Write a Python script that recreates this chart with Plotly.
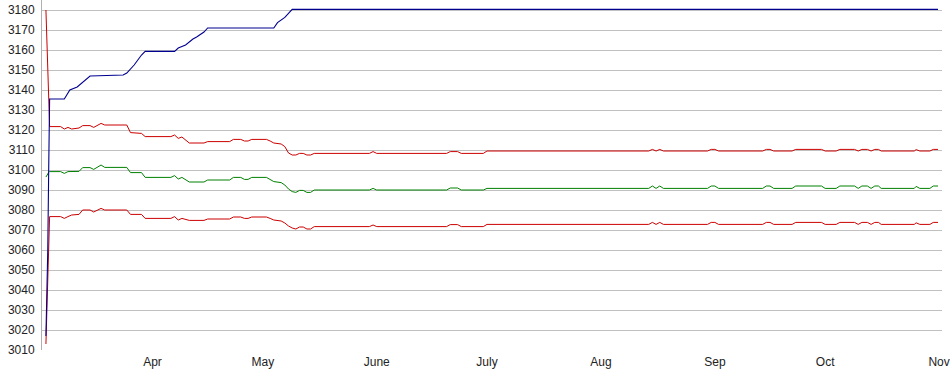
import plotly.graph_objects as go

# ---- data ----
top_dates = ["2023-03-03 00:00", "2023-03-03 06:00", "2023-03-03 12:00", "2023-03-03 18:00", "2023-03-04",
             "2023-03-08", "2023-03-09 12:00", "2023-03-11 12:00", "2023-03-15", "2023-03-24", "2023-03-25",
             "2023-03-27", "2023-03-29", "2023-03-30", "2023-04-07", "2023-04-08", "2023-04-10", "2023-04-12",
             "2023-04-13", "2023-04-15", "2023-04-16", "2023-05-04", "2023-05-05", "2023-05-07", "2023-05-09",
             "2023-10-31 17:00"]
top_values = [3017, 3033, 3060, 3100, 3135.5,
              3135.5, 3140, 3141.5, 3147, 3147.5, 3148.5,
              3152.5, 3157.5, 3159.3, 3159.3, 3161, 3162.5, 3165.5,
              3166.5, 3169, 3171, 3171, 3173.7, 3176.3, 3180.3,
              3180.3]

band_dates = [
    "2023-03-03 00:00", "2023-03-03 06:00", "2023-03-03 12:00", "2023-03-03 18:00", "2023-03-04",
    "2023-03-07", "2023-03-08", "2023-03-09", "2023-03-10", "2023-03-12", "2023-03-13", "2023-03-15",
    "2023-03-16", "2023-03-18", "2023-03-19",
    "2023-03-25", "2023-03-26", "2023-03-29", "2023-03-30",
    "2023-04-06", "2023-04-07", "2023-04-08", "2023-04-09", "2023-04-11",
    "2023-04-15", "2023-04-16", "2023-04-22", "2023-04-23", "2023-04-25", "2023-04-26", "2023-04-27", "2023-04-28",
    "2023-05-02", "2023-05-03", "2023-05-04", "2023-05-06", "2023-05-07", "2023-05-08", "2023-05-09",
    "2023-05-10", "2023-05-11", "2023-05-12", "2023-05-13", "2023-05-14", "2023-05-15",
    "2023-05-30", "2023-05-31", "2023-06-01",
    "2023-06-20", "2023-06-21", "2023-06-23", "2023-06-24",
    "2023-06-30", "2023-07-01",
    "2023-08-14", "2023-08-15", "2023-08-16", "2023-08-17", "2023-08-18",
    "2023-08-30", "2023-08-31", "2023-09-01", "2023-09-02",
    "2023-09-14", "2023-09-15", "2023-09-16", "2023-09-17",
    "2023-09-22", "2023-09-23", "2023-09-30", "2023-10-01",
    "2023-10-04", "2023-10-05", "2023-10-09", "2023-10-10", "2023-10-11", "2023-10-12 12:00",
    "2023-10-13 12:00", "2023-10-14 12:00", "2023-10-15 12:00", "2023-10-16 06:00",
    "2023-10-25 06:00", "2023-10-25 18:00", "2023-10-26 18:00", "2023-10-29 12:00",
    "2023-10-30 10:00", "2023-10-31 17:00",
]
upper_values = [
    3180, 3165, 3146, 3131, 3121.7,
    3121.7, 3120.5, 3121.3, 3120.5, 3121, 3122.2, 3122.2, 3121.3, 3123.3, 3122.5,
    3122.5, 3118.7, 3118.3, 3116.7,
    3116.7, 3117.5, 3115.8, 3116.5, 3113.5,
    3113.5, 3114.2, 3114.2, 3115.3, 3115.3, 3114.5, 3114.5, 3115.3,
    3115.3, 3114.5, 3113.5, 3113, 3111.7, 3108.5, 3107.5,
    3107.5, 3108.3, 3108.3, 3107.5, 3107.5, 3108.3,
    3108.3, 3109.2, 3108.3,
    3108.3, 3109.2, 3109.2, 3108.3,
    3108.3, 3109.5,
    3109.5, 3110.3, 3109.5, 3110.3, 3109.5,
    3109.5, 3110.3, 3110.3, 3109.5,
    3109.5, 3110.3, 3110.3, 3109.5,
    3109.5, 3110.3, 3110.3, 3109.5,
    3109.5, 3110.3, 3110.3, 3109.5, 3110.3, 3110.3, 3109.5, 3110.3, 3110.3, 3109.5,
    3109.5, 3110.2, 3109.5, 3109.5, 3110.3, 3110.3,
]
mid_values = [
    3096.5, 3097, 3098, 3099, 3099.2,
    3099.2, 3098.3, 3099.2, 3099.2, 3099.3, 3101.2, 3101.2, 3100.3, 3102.5, 3101.3,
    3101.3, 3098.7, 3098.7, 3096.3,
    3096.3, 3097.2, 3095.5, 3096.3, 3094,
    3094, 3095, 3095, 3096.3, 3096.3, 3095.3, 3095.3, 3096.3,
    3096.3, 3095.3, 3094.2, 3093.7, 3092.5, 3090.5, 3089.2,
    3088.8, 3089.8, 3089.8, 3088.8, 3088.8, 3090,
    3090, 3090.8, 3090,
    3090, 3091, 3091, 3090,
    3090, 3090.8,
    3090.8, 3092, 3090.8, 3092, 3090.8,
    3090.8, 3092, 3092, 3090.8,
    3090.8, 3092, 3092, 3090.8,
    3090.8, 3092, 3092, 3090.8,
    3090.8, 3092, 3092, 3090.8, 3092, 3092, 3090.8, 3092, 3092, 3090.8,
    3090.8, 3091.8, 3090.8, 3090.8, 3092, 3092,
]
lower_values = [
    3013, 3030, 3052, 3068, 3076.7,
    3076.7, 3075.8, 3076.7, 3077.5, 3077.8, 3080, 3080, 3079, 3080.8, 3080,
    3080, 3077.8, 3077.8, 3075.8,
    3075.8, 3076.7, 3075, 3075.8, 3074.8,
    3074.8, 3075.5, 3075.5, 3076.5, 3076.5, 3075.8, 3075.8, 3076.5,
    3076.5, 3075.8, 3075, 3074.5, 3073.5, 3072, 3071,
    3070.5, 3071.5, 3071.5, 3070.5, 3070.5, 3071.7,
    3071.7, 3072.5, 3071.7,
    3071.7, 3072.7, 3072.7, 3071.7,
    3071.7, 3072.8,
    3072.8, 3073.8, 3072.8, 3073.8, 3072.8,
    3072.8, 3073.8, 3073.8, 3072.8,
    3072.8, 3073.8, 3073.8, 3072.8,
    3072.8, 3073.8, 3073.8, 3072.8,
    3072.8, 3073.8, 3073.8, 3072.8, 3073.8, 3073.8, 3072.8, 3073.8, 3073.8, 3072.8,
    3072.8, 3073.6, 3072.8, 3072.8, 3073.8, 3073.8,
]

month_ticks = ["2023-04-01", "2023-05-01", "2023-06-01", "2023-07-01",
               "2023-08-01", "2023-09-01", "2023-10-01", "2023-11-01"]
month_labels = ["Apr", "May", "June", "July", "Aug", "Sep", "Oct", "Nov"]
y_ticks = list(range(3010, 3181, 10))

RED = "#cc0000"
GREEN = "#008000"
BLUE = "#000090"

fig = go.Figure()
fig.add_trace(go.Scatter(x=band_dates, y=upper_values, mode="lines",
                         line=dict(color=RED, width=1), showlegend=False))
fig.add_trace(go.Scatter(x=band_dates, y=mid_values, mode="lines",
                         line=dict(color=GREEN, width=1), showlegend=False))
fig.add_trace(go.Scatter(x=band_dates, y=lower_values, mode="lines",
                         line=dict(color=RED, width=1), showlegend=False))
fig.add_trace(go.Scatter(x=top_dates, y=top_values, mode="lines",
                         line=dict(color=BLUE, width=1.1), showlegend=False))

fig.update_layout(
    width=950, height=375,
    margin=dict(l=42, r=0, t=0, b=25),
    paper_bgcolor="white", plot_bgcolor="white",
    font=dict(family="Liberation Sans, Arial, sans-serif", size=12, color="#222"),
    xaxis=dict(
        type="date",
        range=["2023-03-01 22:20", "2023-11-01 19:00"],
        tickvals=month_ticks, ticktext=month_labels,
        showgrid=False, zeroline=False, showline=False,
        ticks="", ticklabelstandoff=3, ticklabeloverflow="allow",
    ),
    yaxis=dict(
        range=[3010, 3185],
        tickvals=y_ticks,
        showgrid=True, gridcolor="#c0c0c0", gridwidth=1,
        zeroline=False,
        showline=True, linecolor="#b0b0b0", linewidth=1,
        ticks="", ticklabelstandoff=4,
    ),
)

fig.write_html("out.html")
